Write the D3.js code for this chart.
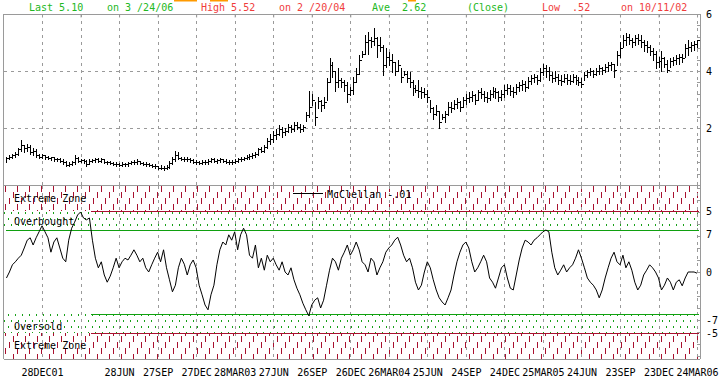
<!DOCTYPE html>
<html>
<head>
<meta charset="utf-8">
<script src="https://cdn.jsdelivr.net/npm/d3@7"></script>
<style>
  body { margin: 0; background: #fff; }
  svg { display: block; font-family: "DejaVu Sans Mono", monospace; font-size: 10px; }
  text { white-space: pre; }
</style>
</head>
<body>
<svg id="chart" width="725" height="382"></svg>
<script>
// weekly bars, first week ending 5 Oct 2001, one row per quarter (13 weeks)
const startWeek = "2001-10-05";

const highs = [
  1.00,1.05,1.10,1.15,1.30,1.58,1.40,1.45,1.40,1.30,1.25,1.10,1.10,
  1.05,1.02,1.00,0.98,0.95,0.95,0.90,0.85,0.80,0.85,1.05,1.00,0.92,
  0.90,0.88,0.90,0.92,0.95,0.95,0.95,0.92,0.85,0.85,0.82,0.80,0.78,
  0.80,0.78,0.82,0.85,0.88,0.92,0.85,0.82,0.80,0.78,0.75,0.72,0.68,
  0.70,0.66,0.70,0.85,1.00,1.18,1.15,1.00,0.98,0.97,0.95,0.90,0.88,
  0.85,0.88,0.87,0.90,0.95,0.95,0.92,0.95,0.92,0.90,0.88,0.86,0.90,
  0.95,0.98,1.00,1.05,1.10,1.12,1.15,1.30,1.35,1.40,1.65,1.80,1.90,
  1.95,2.10,2.05,2.00,2.15,2.10,2.20,2.20,2.15,2.10,2.55,3.30,3.20,
  2.90,3.10,3.00,3.10,3.75,4.45,4.30,4.00,4.10,3.75,3.70,3.60,3.45,
  3.80,4.10,4.55,4.70,5.26,5.37,5.20,5.52,5.20,5.20,4.90,4.80,4.65,
  4.60,4.30,4.40,4.10,4.00,4.00,3.95,3.70,3.50,3.70,3.45,3.40,3.35,
  3.00,2.75,2.80,2.60,2.50,2.60,2.90,2.90,3.00,3.05,2.95,3.10,3.20,
  3.25,3.30,3.20,3.35,3.40,3.30,3.25,3.35,3.45,3.40,3.30,3.35,3.50,
  3.55,3.50,3.45,3.55,3.60,3.70,3.65,3.80,3.85,3.90,3.85,4.10,4.25,
  4.20,4.15,3.95,4.00,3.90,3.85,3.90,3.90,3.85,3.90,3.85,3.80,3.75,
  3.95,4.05,4.10,4.05,4.10,4.20,4.15,4.25,4.30,4.30,4.25,4.70,5.00,
  5.25,5.35,5.30,5.15,5.25,5.30,5.25,5.10,5.05,4.90,4.80,4.70,4.50,
  4.70,4.50,4.40,4.45,4.50,4.55,4.60,4.60,4.95,5.10,5.00,5.05,5.10
];

const lows = [
  0.80,0.92,0.95,1.00,1.05,1.20,1.15,1.20,1.10,1.05,1.00,0.95,0.95,
  0.92,0.90,0.88,0.85,0.85,0.80,0.75,0.65,0.65,0.70,0.75,0.80,0.80,
  0.78,0.65,0.75,0.80,0.82,0.80,0.82,0.78,0.72,0.74,0.70,0.68,0.65,
  0.65,0.66,0.68,0.72,0.72,0.75,0.72,0.70,0.68,0.66,0.62,0.58,0.55,
  0.55,0.52,0.55,0.60,0.75,0.85,0.90,0.88,0.85,0.85,0.82,0.78,0.75,
  0.72,0.75,0.74,0.75,0.80,0.80,0.78,0.82,0.80,0.78,0.74,0.75,0.78,
  0.80,0.85,0.88,0.90,0.92,0.95,0.98,1.05,1.15,1.15,1.30,1.45,1.50,
  1.60,1.75,1.70,1.75,1.85,1.85,1.90,1.95,1.85,1.90,2.25,2.40,2.80,
  2.10,2.70,2.60,2.70,3.00,3.60,3.80,3.30,3.45,3.45,3.30,2.90,3.15,
  3.20,3.60,3.90,4.50,4.60,4.60,4.85,4.90,4.50,4.70,3.85,4.15,4.20,
  3.95,3.85,4.00,3.60,3.85,3.60,3.45,3.15,3.25,3.10,3.05,3.10,2.90,
  2.55,2.30,2.45,2.00,2.30,2.20,2.45,2.55,2.65,2.70,2.60,2.75,2.85,
  2.90,2.95,2.85,3.00,3.05,2.95,2.90,3.00,3.10,3.05,2.95,3.00,3.10,
  3.20,3.15,3.10,3.20,3.30,3.35,3.30,3.40,3.55,3.60,3.55,3.65,3.85,
  3.80,3.70,3.60,3.65,3.55,3.50,3.60,3.55,3.55,3.60,3.55,3.50,3.45,
  3.70,3.80,3.85,3.80,3.85,3.90,3.90,3.95,4.00,4.05,3.80,4.20,4.50,
  4.85,4.90,4.95,4.85,4.90,4.95,4.85,4.70,4.65,4.55,4.40,4.10,4.15,
  4.00,4.15,3.95,4.15,4.20,4.25,4.25,4.30,4.50,4.55,4.70,4.75,4.80
];

const closes = [
  0.95,1.00,1.05,1.10,1.25,1.40,1.30,1.35,1.15,1.20,1.05,1.00,1.05,
  1.00,0.95,0.97,0.90,0.92,0.85,0.80,0.70,0.75,0.80,0.95,0.85,0.88,
  0.85,0.75,0.85,0.88,0.90,0.85,0.92,0.82,0.80,0.78,0.75,0.72,0.70,
  0.72,0.74,0.78,0.80,0.82,0.85,0.78,0.75,0.72,0.70,0.68,0.65,0.58,
  0.60,0.58,0.62,0.78,0.90,1.05,0.95,0.92,0.90,0.92,0.88,0.82,0.80,
  0.78,0.82,0.80,0.85,0.90,0.85,0.88,0.90,0.85,0.82,0.80,0.82,0.85,
  0.90,0.92,0.95,1.00,1.02,1.05,1.10,1.25,1.20,1.35,1.55,1.60,1.75,
  1.80,1.95,1.85,1.90,2.05,1.95,2.10,2.05,1.95,2.05,2.45,2.75,3.00,
  2.40,2.95,2.80,2.90,3.60,4.20,4.00,3.60,3.70,3.60,3.50,3.20,3.35,
  3.60,3.90,4.40,4.60,5.00,5.10,5.05,5.15,4.90,4.85,4.20,4.50,4.40,
  4.30,4.00,4.20,3.80,3.90,3.75,3.60,3.40,3.35,3.30,3.25,3.20,3.10,
  2.70,2.50,2.60,2.20,2.40,2.50,2.75,2.70,2.85,2.90,2.75,3.00,3.05,
  3.10,3.15,3.00,3.25,3.20,3.10,3.05,3.20,3.30,3.25,3.10,3.20,3.35,
  3.40,3.30,3.25,3.45,3.50,3.55,3.45,3.65,3.75,3.80,3.70,3.95,4.10,
  4.00,3.85,3.75,3.80,3.70,3.65,3.75,3.70,3.65,3.80,3.70,3.60,3.55,
  3.85,3.95,4.00,3.90,4.00,4.10,4.05,4.15,4.20,4.25,4.05,4.55,4.80,
  5.10,5.20,5.10,5.00,5.15,5.10,5.00,4.90,4.85,4.70,4.60,4.30,4.35,
  4.45,4.25,4.05,4.35,4.40,4.45,4.50,4.45,4.80,4.85,4.90,4.95,5.10
];

const mcclellan = [
  -1.0,0.0,1.2,1.7,2.3,2.8,4.0,5.3,5.7,4.5,5.7,6.7,7.7,
  6.7,5.7,3.3,5.0,5.7,4.0,2.3,1.7,5.3,7.3,8.3,9.5,10.0,
  9.0,8.7,9.0,5.3,2.3,0.7,1.7,-0.5,-1.7,-0.7,0.7,2.3,0.7,
  1.7,2.3,2.0,2.8,3.7,2.8,1.7,2.3,0.7,0.0,1.2,2.3,3.3,
  1.7,3.7,0.7,-1.3,-3.3,-2.2,0.7,2.3,1.3,-0.5,1.2,2.0,0.7,
  -2.2,-3.8,-5.5,-6.3,-3.8,-2.2,1.2,3.7,5.0,4.5,6.2,5.3,6.7,
  3.7,6.2,7.3,6.2,2.8,2.3,4.5,0.7,2.3,0.3,2.8,1.7,2.3,
  1.2,0.3,1.7,0.0,-0.5,0.7,-1.3,-2.7,-3.8,-5.2,-6.3,-7.3,-5.5,
  -4.7,-4.3,-6.0,-4.7,-2.2,0.3,2.3,1.7,0.3,2.3,3.3,4.5,2.8,
  3.7,5.0,3.7,1.7,1.2,0.0,2.3,1.7,-0.5,0.7,1.7,3.3,4.0,
  4.5,5.3,5.8,4.5,2.8,1.7,2.3,0.7,-1.7,-3.0,-2.2,0.0,1.7,
  0.7,-1.3,-3.0,-4.3,-5.0,-5.5,-4.3,-3.0,-0.5,1.7,3.3,4.5,5.0,
  4.0,1.7,0.0,0.7,1.7,2.8,1.7,-1.0,-1.7,-2.7,-1.0,0.7,1.2,
  -1.0,-2.7,-3.0,-0.5,2.0,4.0,5.3,5.0,4.5,5.3,5.7,6.2,6.7,
  7.0,6.7,3.3,0.7,-0.5,0.3,1.2,0.0,0.7,1.2,2.3,3.7,2.3,
  0.7,-1.0,-1.7,-2.2,-3.0,-4.3,-3.0,-1.0,0.7,2.3,3.3,1.7,1.2,
  2.8,0.7,1.7,0.3,-1.7,-3.0,-2.2,-0.5,0.3,1.2,0.7,0.0,-1.0,
  -3.0,-2.2,-1.0,-1.7,-3.0,-1.7,-1.3,-2.3,-1.0,0.0,0.0,0.0,-0.2
];

const gridDates = ["2001-12-28","2002-03-29","2002-06-28","2002-09-27","2002-12-27","2003-03-28",
  "2003-06-27","2003-09-26","2003-12-26","2004-03-26","2004-06-25","2004-09-24","2004-12-24",
  "2005-03-25","2005-06-24","2005-09-23","2005-12-23","2006-03-24"];
const gridLabels = ["28DEC01","","28JUN","27SEP","27DEC","28MAR03","27JUN","26SEP","26DEC",
  "26MAR04","25JUN","24SEP","24DEC","25MAR05","24JUN","23SEP","23DEC","24MAR06"];

const priceTicks = [6, 4, 2];
const priceMinorTicks = [0.4,0.8,1.2,1.6,2,2.4,2.8,3.2,3.6,4,4.4,4.8,5.2,5.6,6];
const priceGridLevels = [4, 2];
const oscTickValues = [10.2, 6.3, 0, -8, -10.2];
const oscTickLabels = ["5", "7", "0", "-7", "-5"];
const oscMinorTicks = [14, 12, 10, 8, 6, 4, 2, 0, -2, -4, -6, -8, -10, -12, -14];
const overboughtLevel = 7;
const extremeLevel = 10.2;

const headerTexts = ["Last 5.10", "on 3 /24/06", "High 5.52", "on 2 /20/04",
  "Ave  2.62", "(Close)", "Low  .52", "on 10/11/02"];
const headerKinds = ["up", "up", "hi", "hi", "up", "up", "hi", "hi"];
const legendLabel = "McClellan -.01";
const zoneLabels = ["Extreme Zone", "Overbought", "Oversold", "Extreme Zone"];

// ---- layout
const left = 3.5, right = 700;
const priceTop = 14, priceBottom = 185;
const oscTop = 186, oscBottom = 359;
const green = "#22b822", red = "#f03c3c", zoneRed = "#a8102e", zoneGreen = "#18a018", gridGray = "#9a9a9a";

const svg = d3.select("#chart");
const parse = d3.utcParse("%Y-%m-%d");
const t0 = parse(startWeek);
const weeks = closes.map((c, i) => d3.utcDay.offset(t0, 7 * i));
const ticks = gridDates.map(parse);

const x = d3.scaleUtc()
  .domain([d3.utcDay.offset(t0, -7), d3.utcDay.offset(weeks[weeks.length - 1], 7)])
  .range([left, right]);
const yPrice = d3.scaleLinear().domain([0, 6]).range([priceBottom, priceTop]);
const yOsc = d3.scaleLinear().domain([-14.5, 14.333]).range([oscBottom, oscTop]);
const px = d => Math.round(x(d)) + 0.5;

// ---- patterns
const defs = svg.append("defs");
const hatch = defs.append("pattern").attr("id", "hatch")
  .attr("patternUnits", "userSpaceOnUse").attr("width", 12).attr("height", 18);
[[1, 12], [5, 6], [9, 0]].forEach(function (p) {
  hatch.append("rect").attr("x", p[0]).attr("y", p[1]).attr("width", 1).attr("height", 6).attr("fill", zoneRed);
});
const dots = defs.append("pattern").attr("id", "dots")
  .attr("patternUnits", "userSpaceOnUse").attr("width", 7).attr("height", 12);
[[1, 2], [4, 8]].forEach(function (p) {
  dots.append("rect").attr("x", p[0]).attr("y", p[1]).attr("width", 1).attr("height", 2).attr("fill", zoneGreen);
});

// ---- header
const headerX = [29, 107, 201, 279, 372, 467, 542, 621];
svg.append("g").selectAll("text").data(headerTexts).join("text")
  .attr("x", (d, i) => headerX[i])
  .attr("y", 11)
  .attr("fill", (d, i) => headerKinds[i] === "up" ? green : red)
  .text(d => d);
[[174, 197], [210, 228], [408, 416]].forEach(function (s) {
  svg.append("rect").attr("x", s[0]).attr("y", 0).attr("width", s[1] - s[0]).attr("height", 1.5).attr("fill", "#ff9a00");
});

// ---- oscillator zones
const zones = svg.append("g").attr("shape-rendering", "crispEdges");
zones.append("rect").attr("x", left).attr("y", oscTop).attr("width", right - left)
  .attr("height", yOsc(extremeLevel) - oscTop).attr("fill", "url(#hatch)");
zones.append("rect").attr("x", left).attr("y", yOsc(extremeLevel)).attr("width", right - left)
  .attr("height", yOsc(overboughtLevel) - yOsc(extremeLevel)).attr("fill", "url(#dots)");
zones.append("rect").attr("x", left).attr("y", yOsc(-overboughtLevel)).attr("width", right - left)
  .attr("height", yOsc(-extremeLevel) - yOsc(-overboughtLevel)).attr("fill", "url(#dots)");
zones.append("rect").attr("x", left).attr("y", yOsc(-extremeLevel)).attr("width", right - left)
  .attr("height", oscBottom - yOsc(-extremeLevel)).attr("fill", "url(#hatch)");

// ---- grid
const grid = svg.append("g").attr("stroke", gridGray).attr("stroke-dasharray", "3,4").attr("shape-rendering", "crispEdges");
grid.selectAll(".vp").data(ticks).join("line")
  .attr("x1", px).attr("x2", px).attr("y1", priceTop).attr("y2", priceBottom);
grid.selectAll(".vo").data(ticks).join("line")
  .attr("x1", px).attr("x2", px).attr("y1", oscTop).attr("y2", oscBottom);
grid.selectAll(".h").data(priceGridLevels).join("line")
  .attr("x1", left).attr("x2", right)
  .attr("y1", d => Math.round(yPrice(d)) + 0.5).attr("y2", d => Math.round(yPrice(d)) + 0.5);

// zone boundary lines
const lvl = [
  {v: extremeLevel, c: zoneRed, from: 91},
  {v: overboughtLevel, c: "#10a010", from: 6},
  {v: -overboughtLevel, c: "#10a010", from: 91},
  {v: -extremeLevel, c: zoneRed, from: 91}
];
svg.append("g").attr("shape-rendering", "crispEdges").selectAll("line").data(lvl).join("line")
  .attr("x1", d => d.from).attr("x2", right - 1)
  .attr("y1", d => Math.round(yOsc(d.v)) + 0.5).attr("y2", d => Math.round(yOsc(d.v)) + 0.5)
  .attr("stroke", d => d.c).attr("stroke-width", 1.2);

// zone labels
const zoneY = [198, 221, 326, 345];
svg.append("g").selectAll("text").data(zoneLabels).join("text")
  .attr("x", 14).attr("y", (d, i) => zoneY[i]).attr("dy", "0.35em").attr("fill", "#000")
  .text(d => d);

// ---- frame
const frame = svg.append("g").attr("stroke", gridGray).attr("fill", "none").attr("shape-rendering", "crispEdges");
frame.append("line").attr("x1", left).attr("x2", right).attr("y1", priceTop + 0.5).attr("y2", priceTop + 0.5);
frame.append("line").attr("x1", left).attr("x2", right).attr("y1", priceBottom + 0.5).attr("y2", priceBottom + 0.5);
frame.append("line").attr("x1", left).attr("x2", right).attr("y1", oscBottom + 0.5).attr("y2", oscBottom + 0.5);
frame.append("line").attr("x1", left).attr("x2", left).attr("y1", priceTop).attr("y2", oscBottom);
frame.append("line").attr("x1", right).attr("x2", right).attr("y1", priceTop).attr("y2", oscBottom);

// top ticks
svg.append("g").attr("transform", `translate(0,${priceTop + 0.5})`)
  .call(d3.axisTop(x).tickValues(ticks).tickSize(-3).tickFormat(""))
  .call(g => g.select(".domain").remove())
  .call(g => g.selectAll("line").attr("stroke", gridGray));

// ---- price bars (HLC)
const bars = svg.append("g").attr("stroke", "#000").attr("shape-rendering", "crispEdges");
bars.selectAll(".hl").data(closes).join("line")
  .attr("x1", (d, i) => px(weeks[i])).attr("x2", (d, i) => px(weeks[i]))
  .attr("y1", (d, i) => Math.round(yPrice(highs[i]))).attr("y2", (d, i) => Math.round(yPrice(lows[i])) + 1);
bars.selectAll(".cl").data(closes).join("line")
  .attr("x1", (d, i) => px(weeks[i])).attr("x2", (d, i) => px(weeks[i]) + 2)
  .attr("y1", d => Math.round(yPrice(d)) + 0.5).attr("y2", d => Math.round(yPrice(d)) + 0.5);

// ---- oscillator line
const line = d3.line().x((d, i) => x(weeks[i])).y(d => yOsc(d));
svg.append("path").datum(mcclellan)
  .attr("d", line).attr("fill", "none").attr("stroke", "#000").attr("stroke-width", 1);

// legend
svg.append("line").attr("x1", 293).attr("x2", 323).attr("y1", 193.5).attr("y2", 193.5)
  .attr("stroke", "#000").attr("shape-rendering", "crispEdges");
svg.append("text").attr("x", 327).attr("y", 194).attr("dy", "0.35em").text(legendLabel);

// ---- right axes
function styleAxis(g) {
  g.select(".domain").remove();
  g.selectAll("line").attr("stroke", gridGray).attr("shape-rendering", "crispEdges");
  g.selectAll("text").attr("fill", "#000").attr("font-size", 10).attr("font-family", "DejaVu Sans Mono");
}
svg.append("g").attr("transform", `translate(${right},0)`)
  .call(d3.axisRight(yPrice).tickValues(priceMinorTicks).tickSize(-3).tickFormat(""))
  .call(styleAxis);
svg.append("g").attr("transform", `translate(${right},0)`)
  .call(d3.axisRight(yOsc).tickValues(oscMinorTicks).tickSize(-3).tickFormat(""))
  .call(styleAxis);
svg.append("g").attr("transform", `translate(${right},0)`)
  .call(d3.axisRight(yPrice).tickValues(priceTicks).tickSize(0).tickPadding(6).tickFormat(d3.format("d")))
  .call(styleAxis);
svg.append("g").attr("transform", `translate(${right},0)`)
  .call(d3.axisRight(yOsc).tickValues(oscTickValues).tickSize(0).tickPadding(6)
    .tickFormat((d, i) => oscTickLabels[i]))
  .call(styleAxis);

// ---- bottom axis labels
svg.append("g").attr("transform", `translate(0,${oscBottom})`)
  .call(d3.axisBottom(x).tickValues(ticks).tickSize(0).tickPadding(10)
    .tickFormat((d, i) => gridLabels[i]))
  .call(styleAxis);
</script>
</body>
</html>
